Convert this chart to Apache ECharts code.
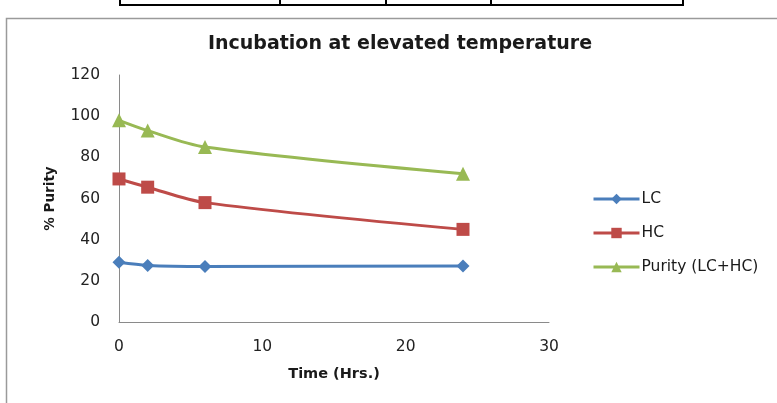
<!DOCTYPE html>
<html>
<head>
<meta charset="utf-8">
<script src="https://cdn.jsdelivr.net/npm/echarts@6/dist/echarts.min.js"></script>
<style>
html,body{margin:0;padding:0;background:#fff;}
#c{width:777px;height:403px;}
</style>
</head>
<body>
<div id="c"></div>
<script>
var timeHrs = [0, 2, 6, 24];
var lcValues = [29, 27.5, 27, 27.2];
var hcValues = [69.5, 65.5, 58, 45];
var purityValues = [98, 93, 85, 72];
var seriesNames = ['LC', 'HC', 'Purity (LC+HC)'];
var xTicks = {min: 0, max: 30, interval: 10};
var yTicks = {min: 0, max: 120, interval: 20};

function pairs(xs, ys){ return xs.map(function(x,i){return [x, ys[i]];}); }

var FONT = '"DejaVu Sans", Verdana, sans-serif';
var chart = echarts.init(document.getElementById('c'), null, {renderer:'canvas'});
chart.setOption({
  backgroundColor: '#fff',
  animation: false,
  title: {
    text: 'Incubation at elevated temperature',
    left: 395, top: 30, textAlign: 'center',
    textStyle: {fontFamily: FONT, fontSize: 19, fontWeight: 'bold', color: '#1a1a1a'}
  },
  legend: {
    orient: 'vertical', left: 587, top: 186,
    itemWidth: 46, itemHeight: 13, itemGap: 18,
    data: seriesNames,
    lineStyle: {width: 3},
    textStyle: {fontFamily: FONT, fontSize: 15.5, color: '#1a1a1a', padding: [0,0,0,-3]}
  },
  grid: {left: 119, top: 75, width: 430, height: 247, containLabel: false},
  xAxis: {
    type: 'value', min: xTicks.min, max: xTicks.max, interval: xTicks.interval,
    name: 'Time (Hrs.)', nameLocation: 'middle', nameGap: 45,
    nameTextStyle: {fontFamily: FONT, fontSize: 14.5, fontWeight: 'bold', color: '#1a1a1a'},
    axisLine: {lineStyle: {color: '#8a8a8a', width: 1}},
    axisTick: {show: false},
    splitLine: {show: false},
    axisLabel: {fontFamily: FONT, fontSize: 15.5, color: '#222', margin: 17}
  },
  yAxis: {
    type: 'value', min: yTicks.min, max: yTicks.max, interval: yTicks.interval,
    name: '% Purity', nameLocation: 'middle', nameGap: 62, nameRotate: 90,
    nameTextStyle: {fontFamily: FONT, fontSize: 13.5, fontWeight: 'bold', color: '#1a1a1a'},
    axisLine: {show: true, lineStyle: {color: '#8a8a8a', width: 1}},
    axisTick: {show: false},
    splitLine: {show: false},
    axisLabel: {fontFamily: FONT, fontSize: 15.5, color: '#222', margin: 19}
  },
  series: [
    {name: seriesNames[0], type: 'line', data: pairs(timeHrs, lcValues), smooth: 0.3,
     symbol: 'diamond', symbolSize: 13, color: '#4A7EBB', lineStyle: {width: 3}},
    {name: seriesNames[1], type: 'line', data: pairs(timeHrs, hcValues), smooth: 0.3,
     symbol: 'rect', symbolSize: 13, color: '#BE4B48', lineStyle: {width: 3}},
    {name: seriesNames[2], type: 'line', data: pairs(timeHrs, purityValues), smooth: 0.3,
     symbol: 'triangle', symbolSize: 14, color: '#98B954', lineStyle: {width: 3}}
  ],
  graphic: [
    {type: 'rect', shape: {x: 6.5, y: 18.5, width: 800, height: 420}, style: {fill: null, stroke: '#9a9a9a', lineWidth: 1.5}, z: -1},
    {type: 'line', shape: {x1: 119, y1: 5, x2: 684, y2: 5}, style: {stroke: '#000', lineWidth: 2}},
    {type: 'line', shape: {x1: 120, y1: 0, x2: 120, y2: 6}, style: {stroke: '#000', lineWidth: 2}},
    {type: 'line', shape: {x1: 280, y1: 0, x2: 280, y2: 6}, style: {stroke: '#000', lineWidth: 2}},
    {type: 'line', shape: {x1: 386, y1: 0, x2: 386, y2: 6}, style: {stroke: '#000', lineWidth: 2}},
    {type: 'line', shape: {x1: 491, y1: 0, x2: 491, y2: 6}, style: {stroke: '#000', lineWidth: 2}},
    {type: 'line', shape: {x1: 683, y1: 0, x2: 683, y2: 6}, style: {stroke: '#000', lineWidth: 2}}
  ]
});
</script>
</body>
</html>
